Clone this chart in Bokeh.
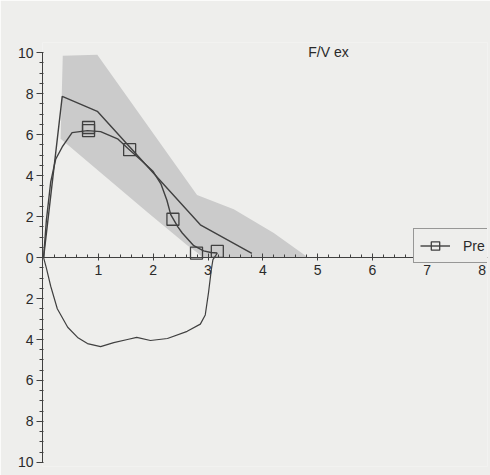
from bokeh.plotting import figure
from bokeh.models import (Range1d, LinearAxis, FixedTicker, Label, Legend, LegendItem)
from bokeh.embed import file_html
from bokeh.resources import INLINE

# ---- data (volume L, flow L/s) ----
band_x = [0.31, 0.35, 0.98, 2.80, 3.47, 4.20, 4.80, 4.80, 2.90, 2.80, 2.62, 1.90, 0.31]
band_y = [5.80, 9.85, 9.90, 3.05, 2.36, 1.20, 0.05, 0.00, 0.00, 0.25, 0.60, 2.20, 5.80]

pred_x = [0.0, 0.34, 0.98, 2.86, 3.80]
pred_y = [0.0, 7.87, 7.14, 1.60, 0.20]

exp_x = [0.0, 0.05, 0.13, 0.22, 0.34, 0.52, 0.80, 1.04, 1.35, 1.55, 1.80, 2.00,
         2.14, 2.25, 2.32, 2.45, 2.53, 2.74, 2.92, 3.05, 3.17]
exp_y = [0.0, 1.8, 3.7, 4.8, 5.4, 6.1, 6.2, 6.15, 5.8, 5.3, 4.7, 4.2,
         3.6, 2.8, 2.1, 1.5, 1.2, 0.58, 0.33, 0.25, 0.22]

insp_x = [3.17, 3.09, 3.06, 3.01, 2.95, 2.86, 2.62, 2.26, 1.95, 1.70, 1.53, 1.28,
          1.04, 0.80, 0.62, 0.44, 0.25, 0.13, 0.05, 0.0]
insp_y = [0.22, -0.10, -0.60, -1.70, -2.80, -3.25, -3.60, -3.95, -4.05, -3.90, -4.00, -4.15,
          -4.35, -4.20, -3.90, -3.40, -2.50, -1.40, -0.50, 0.0]

mark_x = [0.82, 0.82, 1.57, 2.36, 2.79, 3.17]
mark_y = [6.35, 6.20, 5.27, 1.87, 0.22, 0.30]

x_ticks = [1, 2, 3, 4, 5, 6, 7, 8]
x_labels = ["1", "2", "3", "4", "5", "6", "7", "8"]
y_ticks = [-10, -8, -6, -4, -2, 0, 2, 4, 6, 8, 10]
y_labels = ["10", "8", "6", "4", "2", "0", "2", "4", "6", "8", "10"]
title_text = "F/V ex"
legend_label = "Pre"

BG = "#eeeeec"
INK = "#404040"
TXT = "#2a2a2a"
FONT = "Liberation Sans"

p = figure(width=490, height=475, output_backend="svg", toolbar_location=None,
           x_range=Range1d(-0.02, 8.1), y_range=Range1d(-10.2, 10.5),
           x_axis_type=None, y_axis_type=None,
           min_border_left=42, min_border_right=3, min_border_top=42, min_border_bottom=9)
p.outline_line_color = None
p.background_fill_color = BG
p.border_fill_color = BG
p.xgrid.visible = False
p.ygrid.visible = False

# band of predicted range
p.patch(band_x, band_y, fill_color="#cbcbcb", line_color=None, fill_alpha=1.0)

# predicted line
p.line(pred_x, pred_y, line_color=INK, line_width=1.4)

# measured loop
r_exp = p.line(exp_x, exp_y, line_color=INK, line_width=1.4)
p.line(insp_x, insp_y, line_color=INK, line_width=1.2)
r_mark = p.scatter(mark_x, mark_y, marker="square", size=12, fill_color=None,
                   line_color=INK, line_width=1.3)

# y axis (left)
yax = LinearAxis(bounds=(-10, 10),
                 ticker=FixedTicker(ticks=y_ticks,
                                    minor_ticks=[v / 2 for v in range(-20, 21)]))
yax.major_label_overrides = {t: l for t, l in zip(y_ticks, y_labels)}
yax.axis_line_color = INK
yax.major_tick_line_color = INK
yax.minor_tick_line_color = INK
yax.major_tick_out = 6
yax.major_tick_in = 0
yax.minor_tick_out = 3
yax.minor_tick_in = 1
yax.major_label_text_font = FONT
yax.major_label_text_font_size = "14px"
yax.major_label_text_color = TXT
yax.major_label_standoff = 3
p.add_layout(yax, "left")

# x axis crossing at flow 0
xax = LinearAxis(fixed_location=0,
                 ticker=FixedTicker(ticks=x_ticks,
                                    minor_ticks=[v / 5 for v in range(0, 41)]))
xax.major_label_overrides = {t: l for t, l in zip(x_ticks, x_labels)}
xax.axis_line_color = INK
xax.major_tick_line_color = INK
xax.minor_tick_line_color = INK
xax.major_tick_in = 4
xax.major_tick_out = 3
xax.minor_tick_in = 3
xax.minor_tick_out = 0
xax.major_label_text_font = FONT
xax.major_label_text_font_size = "14px"
xax.major_label_text_color = TXT
xax.major_label_standoff = 4
p.add_layout(xax, "below")

# title text
p.add_layout(Label(x=4.83, y=10.05, text=title_text, text_font=FONT,
                   text_font_size="14px", text_color=TXT,
                   text_baseline="middle", text_align="left"))

legend = Legend(items=[LegendItem(label=legend_label, renderers=[r_exp, r_mark])],
                location=(371, 203), orientation="vertical",
                label_text_font=FONT, label_text_font_size="14px",
                label_text_color=TXT, label_standoff=13, label_width=60,
                glyph_width=30, glyph_height=21, padding=6, spacing=0,
                border_line_color=INK, border_line_width=1.2,
                background_fill_color=BG, background_fill_alpha=1.0)
p.add_layout(legend, "center")

open("out.html", "w").write(file_html(p, INLINE))
